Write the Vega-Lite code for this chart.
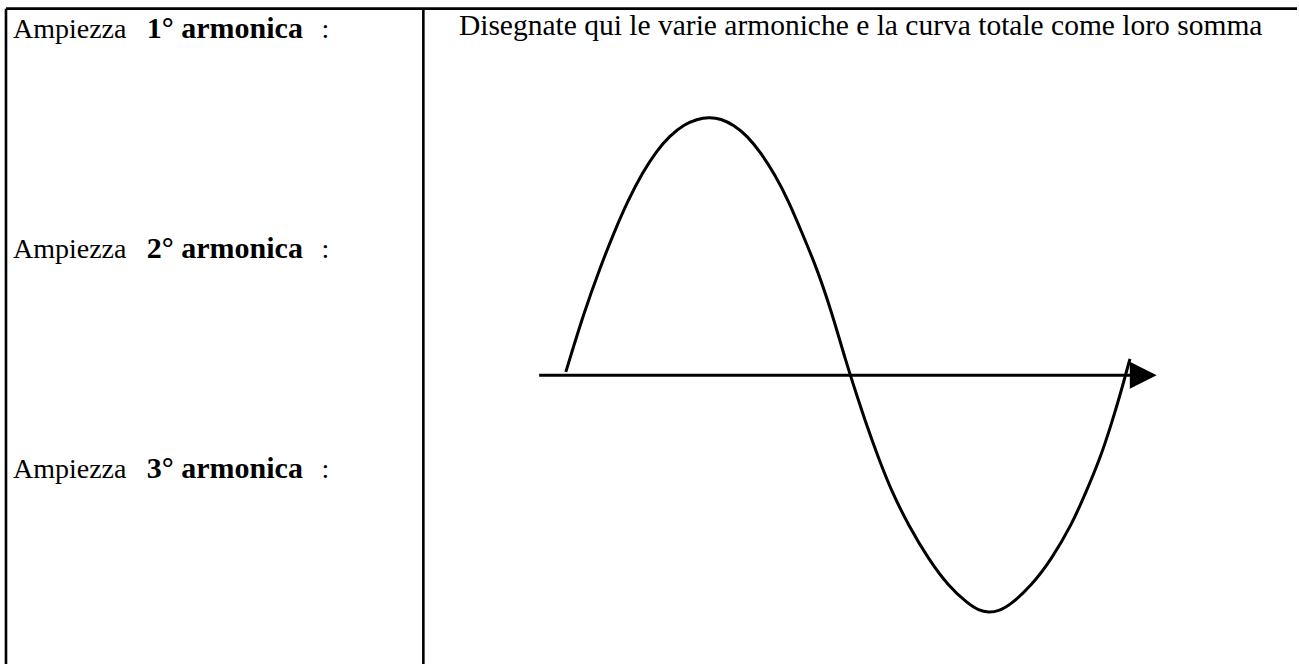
{
  "$schema": "https://vega.github.io/schema/vega-lite/v6.json",
  "width": 1299,
  "height": 666,
  "autosize": {"type": "fit", "contains": "padding"},
  "padding": 0,
  "background": "white",
  "config": {"view": {"stroke": null}},
  "datasets": {
    "borders": [
      {"x": 6, "y": 8.7, "x2": 1299, "y2": 8.7},
      {"x": 6, "y": 8.7, "x2": 6, "y2": 666},
      {"x": 424, "y": 8.7, "x2": 424, "y2": 666}
    ],
    "axisline": [
      {"x": 540, "y": 376.5, "x2": 1133, "y2": 376.5}
    ],
    "arrow": [
      {"x": 1145, "y": 376.4}
    ],
    "curve": [
      {"x": 566.7, "y": 373},
      {"x": 585, "y": 313},
      {"x": 601.7, "y": 266.7},
      {"x": 615, "y": 233},
      {"x": 629, "y": 201},
      {"x": 643, "y": 174},
      {"x": 657, "y": 152},
      {"x": 671, "y": 136},
      {"x": 685, "y": 125},
      {"x": 698, "y": 119.5},
      {"x": 710, "y": 117.5},
      {"x": 722, "y": 119},
      {"x": 735, "y": 125.5},
      {"x": 748, "y": 136},
      {"x": 762, "y": 153},
      {"x": 776, "y": 175},
      {"x": 790, "y": 202},
      {"x": 803, "y": 233},
      {"x": 817.7, "y": 268},
      {"x": 833, "y": 313},
      {"x": 847, "y": 362},
      {"x": 857, "y": 393},
      {"x": 868, "y": 426.7},
      {"x": 880, "y": 460},
      {"x": 893, "y": 493},
      {"x": 910, "y": 527},
      {"x": 930, "y": 561},
      {"x": 950, "y": 588},
      {"x": 970, "y": 606},
      {"x": 980, "y": 612},
      {"x": 990, "y": 614.5},
      {"x": 1000, "y": 613},
      {"x": 1011.7, "y": 607},
      {"x": 1033, "y": 587.5},
      {"x": 1053, "y": 561},
      {"x": 1073, "y": 527},
      {"x": 1088, "y": 493},
      {"x": 1101.7, "y": 460},
      {"x": 1112.7, "y": 426.7},
      {"x": 1122.7, "y": 393},
      {"x": 1127, "y": 377},
      {"x": 1131.7, "y": 360}
    ],
    "regular": [
      {"x": 13, "y": 38, "text": "Ampiezza"},
      {"x": 322, "y": 38, "text": ":"},
      {"x": 13, "y": 258.5, "text": "Ampiezza"},
      {"x": 322, "y": 258.5, "text": ":"},
      {"x": 13, "y": 479, "text": "Ampiezza"},
      {"x": 322, "y": 479, "text": ":"}
    ],
    "bold": [
      {"x": 147, "y": 38, "text": "1° armonica"},
      {"x": 147, "y": 258.5, "text": "2° armonica"},
      {"x": 147, "y": 479, "text": "3° armonica"}
    ],
    "header": [
      {"x": 862, "y": 35, "text": "Disegnate qui le varie armoniche e la curva totale come loro somma"}
    ]
  },
  "encoding": {
    "x": {"field": "x", "type": "quantitative", "scale": {"domain": [0, 1299], "nice": false, "zero": false}, "axis": null},
    "y": {"field": "y", "type": "quantitative", "scale": {"domain": [0, 666], "nice": false, "zero": false, "reverse": true}, "axis": null}
  },
  "layer": [
    {
      "data": {"name": "borders"},
      "mark": {"type": "rule", "color": "black", "strokeWidth": 2.6},
      "encoding": {"x2": {"field": "x2"}, "y2": {"field": "y2"}}
    },
    {
      "data": {"name": "axisline"},
      "mark": {"type": "rule", "color": "black", "strokeWidth": 3},
      "encoding": {"x2": {"field": "x2"}, "y2": {"field": "y2"}}
    },
    {
      "data": {"name": "arrow"},
      "mark": {"type": "point", "shape": "M-1,-1L1,0L-1,1Z", "filled": true, "color": "black", "opacity": 1, "size": 720, "strokeWidth": 0}
    },
    {
      "data": {"name": "curve"},
      "mark": {"type": "line", "color": "black", "strokeWidth": 3, "interpolate": "basis"}
    },
    {
      "data": {"name": "regular"},
      "mark": {"type": "text", "align": "left", "baseline": "alphabetic", "font": "Liberation Serif", "fontSize": 28, "color": "black"},
      "encoding": {"text": {"field": "text"}}
    },
    {
      "data": {"name": "bold"},
      "mark": {"type": "text", "align": "left", "baseline": "alphabetic", "font": "Liberation Serif", "fontSize": 30, "fontWeight": "bold", "color": "black"},
      "encoding": {"text": {"field": "text"}}
    },
    {
      "data": {"name": "header"},
      "mark": {"type": "text", "align": "center", "baseline": "alphabetic", "font": "Liberation Serif", "fontSize": 29.5, "color": "black"},
      "encoding": {"text": {"field": "text"}}
    }
  ]
}
